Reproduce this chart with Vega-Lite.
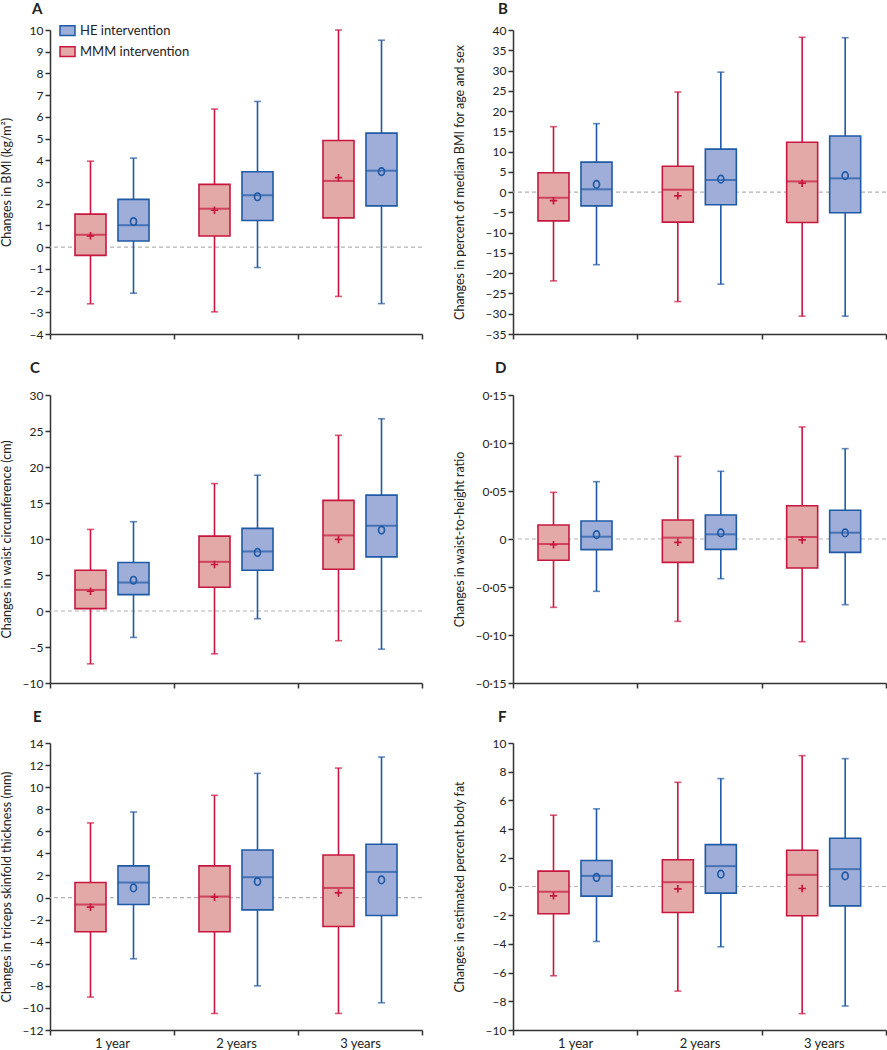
{
  "$schema": "https://vega.github.io/schema/vega-lite/v6.json",
  "padding": {"left": 0, "top": 2, "right": 0, "bottom": 0},
  "background": "white",
  "datasets": {
    "d": [
      {"panel": "A", "time": "1 year", "group": "MMM intervention", "lo": -2.61, "q1": -0.38, "med": 0.57, "q3": 1.52, "hi": 3.96, "mean": 0.52},
      {"panel": "A", "time": "1 year", "group": "HE intervention", "lo": -2.12, "q1": 0.28, "med": 1.01, "q3": 2.2, "hi": 4.1, "mean": 1.18},
      {"panel": "A", "time": "2 years", "group": "MMM intervention", "lo": -2.98, "q1": 0.51, "med": 1.77, "q3": 2.89, "hi": 6.36, "mean": 1.7},
      {"panel": "A", "time": "2 years", "group": "HE intervention", "lo": -0.94, "q1": 1.23, "med": 2.39, "q3": 3.47, "hi": 6.71, "mean": 2.32},
      {"panel": "A", "time": "3 years", "group": "MMM intervention", "lo": -2.27, "q1": 1.35, "med": 3.05, "q3": 4.91, "hi": 10.0, "mean": 3.2},
      {"panel": "A", "time": "3 years", "group": "HE intervention", "lo": -2.6, "q1": 1.9, "med": 3.52, "q3": 5.25, "hi": 9.53, "mean": 3.48},
      {"panel": "B", "time": "1 year", "group": "MMM intervention", "lo": -21.9, "q1": -7.1, "med": -1.37, "q3": 4.8, "hi": 16.15, "mean": -2.1},
      {"panel": "B", "time": "1 year", "group": "HE intervention", "lo": -17.9, "q1": -3.4, "med": 0.7, "q3": 7.4, "hi": 16.9, "mean": 1.9},
      {"panel": "B", "time": "2 years", "group": "MMM intervention", "lo": -27.0, "q1": -7.4, "med": 0.6, "q3": 6.4, "hi": 24.7, "mean": -0.9},
      {"panel": "B", "time": "2 years", "group": "HE intervention", "lo": -22.7, "q1": -3.1, "med": 3.0, "q3": 10.6, "hi": 29.6, "mean": 3.2},
      {"panel": "B", "time": "3 years", "group": "MMM intervention", "lo": -30.6, "q1": -7.5, "med": 2.65, "q3": 12.3, "hi": 38.2, "mean": 2.2},
      {"panel": "B", "time": "3 years", "group": "HE intervention", "lo": -30.6, "q1": -5.1, "med": 3.4, "q3": 13.85, "hi": 38.1, "mean": 4.06},
      {"panel": "C", "time": "1 year", "group": "MMM intervention", "lo": -7.34, "q1": 0.33, "med": 2.93, "q3": 5.67, "hi": 11.33, "mean": 2.74},
      {"panel": "C", "time": "1 year", "group": "HE intervention", "lo": -3.67, "q1": 2.28, "med": 3.95, "q3": 6.73, "hi": 12.4, "mean": 4.27},
      {"panel": "C", "time": "2 years", "group": "MMM intervention", "lo": -5.95, "q1": 3.3, "med": 6.83, "q3": 10.4, "hi": 17.7, "mean": 6.46},
      {"panel": "C", "time": "2 years", "group": "HE intervention", "lo": -1.07, "q1": 5.67, "med": 8.27, "q3": 11.47, "hi": 18.86, "mean": 8.13},
      {"panel": "C", "time": "3 years", "group": "MMM intervention", "lo": -4.13, "q1": 5.8, "med": 10.5, "q3": 15.37, "hi": 24.4, "mean": 9.94},
      {"panel": "C", "time": "3 years", "group": "HE intervention", "lo": -5.3, "q1": 7.52, "med": 11.84, "q3": 16.1, "hi": 26.7, "mean": 11.24},
      {"panel": "D", "time": "1 year", "group": "MMM intervention", "lo": -0.0712, "q1": -0.0222, "med": -0.0052, "q3": 0.0146, "hi": 0.0486, "mean": -0.006},
      {"panel": "D", "time": "1 year", "group": "HE intervention", "lo": -0.0545, "q1": -0.0111, "med": 0.0024, "q3": 0.0188, "hi": 0.0597, "mean": 0.0045},
      {"panel": "D", "time": "2 years", "group": "MMM intervention", "lo": -0.0858, "q1": -0.0243, "med": 0.0014, "q3": 0.0198, "hi": 0.0861, "mean": -0.0035},
      {"panel": "D", "time": "2 years", "group": "HE intervention", "lo": -0.0413, "q1": -0.0108, "med": 0.0049, "q3": 0.025, "hi": 0.0705, "mean": 0.0063},
      {"panel": "D", "time": "3 years", "group": "MMM intervention", "lo": -0.107, "q1": -0.0302, "med": 0.0021, "q3": 0.0347, "hi": 0.1167, "mean": -0.001},
      {"panel": "D", "time": "3 years", "group": "HE intervention", "lo": -0.0684, "q1": -0.0139, "med": 0.0066, "q3": 0.0299, "hi": 0.0941, "mean": 0.0063},
      {"panel": "E", "time": "1 year", "group": "MMM intervention", "lo": -9.02, "q1": -3.1, "med": -0.63, "q3": 1.36, "hi": 6.76, "mean": -0.87},
      {"panel": "E", "time": "1 year", "group": "HE intervention", "lo": -5.55, "q1": -0.63, "med": 1.36, "q3": 2.87, "hi": 7.75, "mean": 0.87},
      {"panel": "E", "time": "2 years", "group": "MMM intervention", "lo": -10.5, "q1": -3.1, "med": 0.09, "q3": 2.87, "hi": 9.26, "mean": 0.03},
      {"panel": "E", "time": "2 years", "group": "HE intervention", "lo": -8.0, "q1": -1.12, "med": 1.84, "q3": 4.31, "hi": 11.25, "mean": 1.45},
      {"panel": "E", "time": "3 years", "group": "MMM intervention", "lo": -10.5, "q1": -2.62, "med": 0.87, "q3": 3.86, "hi": 11.73, "mean": 0.42},
      {"panel": "E", "time": "3 years", "group": "HE intervention", "lo": -9.53, "q1": -1.63, "med": 2.32, "q3": 4.83, "hi": 12.73, "mean": 1.6},
      {"panel": "F", "time": "1 year", "group": "MMM intervention", "lo": -6.22, "q1": -1.9, "med": -0.37, "q3": 1.07, "hi": 4.97, "mean": -0.65},
      {"panel": "F", "time": "1 year", "group": "HE intervention", "lo": -3.83, "q1": -0.67, "med": 0.74, "q3": 1.81, "hi": 5.41, "mean": 0.63},
      {"panel": "F", "time": "2 years", "group": "MMM intervention", "lo": -7.29, "q1": -1.81, "med": 0.3, "q3": 1.86, "hi": 7.26, "mean": -0.16},
      {"panel": "F", "time": "2 years", "group": "HE intervention", "lo": -4.2, "q1": -0.46, "med": 1.42, "q3": 2.92, "hi": 7.52, "mean": 0.86},
      {"panel": "F", "time": "3 years", "group": "MMM intervention", "lo": -8.86, "q1": -2.04, "med": 0.81, "q3": 2.53, "hi": 9.12, "mean": -0.14},
      {"panel": "F", "time": "3 years", "group": "HE intervention", "lo": -8.33, "q1": -1.35, "med": 1.21, "q3": 3.36, "hi": 8.91, "mean": 0.74}
    ]
  },
  "config": {
    "font": "Lato",
    "view": {"stroke": null},
    "axis": {"domainColor": "#333333", "domainWidth": 1.5, "tickColor": "#333333", "tickWidth": 1.5, "tickSize": 5, "labelFont": "Lato", "labelFontSize": 12, "labelColor": "#222222", "titleFont": "Lato", "titleFontSize": 12.5, "titleFontWeight": "normal", "titleColor": "#222222", "grid": false, "labelPadding": 2, "labelOverlap": false},
    "axisY": {"tickCount": 100},
    "title": {"font": "Lato", "fontSize": 15, "fontWeight": "bold", "anchor": "start", "color": "#222222", "frame": "group"}
  },
  "columns": 2,
  "spacing": {"row": 21, "column": 30},
  "concat": [
    {
      "width": 372, "height": 304,
      "title": {"text": "A", "dx": -18, "offset": 7},
      "layer": [
        {"data": {"values": [{}]}, "mark": {"type": "rule", "color": "#b3b3b3", "strokeDash": [4, 3], "strokeWidth": 1.2}, "encoding": {"y": {"datum": 0, "type": "quantitative"}}},
        {
          "data": {"name": "d"},
          "transform": [{"filter": "datum.panel === 'A'"}],
          "encoding": {
            "x": {"field": "time", "type": "nominal", "sort": ["1 year", "2 years", "3 years"], "title": null, "scale": {"paddingInner": 0, "paddingOuter": 0}, "axis": {"tickBand": "extent", "labels": false}},
            "xOffset": {"field": "group", "type": "nominal", "sort": ["MMM intervention", "HE intervention"], "scale": {"paddingInner": 0.279, "paddingOuter": 0.581}},
            "color": {"field": "group", "type": "nominal", "scale": {"domain": ["MMM intervention", "HE intervention"], "range": ["#c8173f", "#1f5aa6"]}, "legend": null}
          },
          "layer": [
            {"mark": {"type": "rule", "strokeWidth": 1.6}, "encoding": {"y": {"field": "lo", "type": "quantitative", "scale": {"domain": [-4, 10], "nice": false, "zero": false}, "axis": {"title": "Changes in BMI (kg/m²)", "values": [-4, -3, -2, -1, 0, 1, 2, 3, 4, 5, 6, 7, 8, 9, 10], "format": "d", "tickCount": 100, "labelOverlap": false, "labelExpr": "replace(datum.label, '−', '–')", "titleX": -37}}, "y2": {"field": "hi"}}},
            {"mark": {"type": "bar", "strokeWidth": 1.6}, "encoding": {"y": {"field": "q1", "type": "quantitative"}, "y2": {"field": "q3"},
              "fill": {"field": "group", "type": "nominal", "scale": {"domain": ["HE intervention", "MMM intervention"], "range": ["#9eaed9", "#e3a9a6"]}, "legend": {"title": null, "orient": "none", "legendX": 9, "legendY": -8, "symbolType": "M-1,-0.65H1V0.65H-1Z", "symbolSize": 225, "symbolStrokeWidth": 1.5, "labelFontSize": 13, "labelFont": "Lato", "labelColor": "#222222", "rowPadding": 4, "labelOffset": 4}},
              "stroke": {"field": "group", "type": "nominal", "scale": {"domain": ["HE intervention", "MMM intervention"], "range": ["#1f5aa6", "#c8173f"]}, "legend": {"title": null, "orient": "none", "legendX": 9, "legendY": -8, "symbolType": "M-1,-0.65H1V0.65H-1Z", "symbolSize": 225, "symbolStrokeWidth": 1.5, "labelFontSize": 13, "labelFont": "Lato", "labelColor": "#222222", "rowPadding": 4, "labelOffset": 4}}}},
            {"mark": {"type": "tick", "size": 7, "thickness": 1.6}, "encoding": {"y": {"field": "lo", "type": "quantitative"}}},
            {"mark": {"type": "tick", "size": 7, "thickness": 1.6}, "encoding": {"y": {"field": "hi", "type": "quantitative"}}},
            {"mark": {"type": "tick", "size": 31, "thickness": 2}, "encoding": {"y": {"field": "med", "type": "quantitative"}}},
            {"mark": {"type": "point", "filled": false, "strokeWidth": 1.7, "size": 56, "opacity": 1}, "encoding": {"y": {"field": "mean", "type": "quantitative"}, "shape": {"field": "group", "type": "nominal", "scale": {"domain": ["MMM intervention", "HE intervention"], "range": ["M-1,0H1M0,-1V1", "M0,-1C0.45,-1 0.8,-0.55 0.8,0C0.8,0.55 0.45,1 0,1C-0.45,1 -0.8,0.55 -0.8,0C-0.8,-0.55 -0.45,-1 0,-1Z"]}, "legend": null}}}
          ]
        }
      ]
    },
    {
      "width": 373, "height": 304,
      "title": {"text": "B", "dx": -15, "offset": 7},
      "layer": [
        {"data": {"values": [{}]}, "mark": {"type": "rule", "color": "#b3b3b3", "strokeDash": [4, 3], "strokeWidth": 1.2}, "encoding": {"y": {"datum": 0, "type": "quantitative"}}},
        {
          "data": {"name": "d"},
          "transform": [{"filter": "datum.panel === 'B'"}],
          "encoding": {
            "x": {"field": "time", "type": "nominal", "sort": ["1 year", "2 years", "3 years"], "title": null, "scale": {"paddingInner": 0, "paddingOuter": 0}, "axis": {"tickBand": "extent", "labels": false}},
            "xOffset": {"field": "group", "type": "nominal", "sort": ["MMM intervention", "HE intervention"], "scale": {"paddingInner": 0.279, "paddingOuter": 0.581}},
            "color": {"field": "group", "type": "nominal", "scale": {"domain": ["MMM intervention", "HE intervention"], "range": ["#c8173f", "#1f5aa6"]}, "legend": null}
          },
          "layer": [
            {"mark": {"type": "rule", "strokeWidth": 1.6}, "encoding": {"y": {"field": "lo", "type": "quantitative", "scale": {"domain": [-35, 40], "nice": false, "zero": false}, "axis": {"title": "Changes in percent of median BMI for age and sex", "values": [-35, -30, -25, -20, -15, -10, -5, 0, 5, 10, 15, 20, 25, 30, 35, 40], "format": "d", "tickCount": 100, "labelOverlap": false, "labelExpr": "replace(datum.label, '−', '–')", "titleX": -47}}, "y2": {"field": "hi"}}},
            {"mark": {"type": "bar", "strokeWidth": 1.6}, "encoding": {"y": {"field": "q1", "type": "quantitative"}, "y2": {"field": "q3"},
              "fill": {"field": "group", "type": "nominal", "scale": {"domain": ["HE intervention", "MMM intervention"], "range": ["#9eaed9", "#e3a9a6"]}},
              "stroke": {"field": "group", "type": "nominal", "scale": {"domain": ["HE intervention", "MMM intervention"], "range": ["#1f5aa6", "#c8173f"]}}}},
            {"mark": {"type": "tick", "size": 7, "thickness": 1.6}, "encoding": {"y": {"field": "lo", "type": "quantitative"}}},
            {"mark": {"type": "tick", "size": 7, "thickness": 1.6}, "encoding": {"y": {"field": "hi", "type": "quantitative"}}},
            {"mark": {"type": "tick", "size": 31, "thickness": 2}, "encoding": {"y": {"field": "med", "type": "quantitative"}}},
            {"mark": {"type": "point", "filled": false, "strokeWidth": 1.7, "size": 56, "opacity": 1}, "encoding": {"y": {"field": "mean", "type": "quantitative"}, "shape": {"field": "group", "type": "nominal", "scale": {"domain": ["MMM intervention", "HE intervention"], "range": ["M-1,0H1M0,-1V1", "M0,-1C0.45,-1 0.8,-0.55 0.8,0C0.8,0.55 0.45,1 0,1C-0.45,1 -0.8,0.55 -0.8,0C-0.8,-0.55 -0.45,-1 0,-1Z"]}, "legend": null}}}
          ]
        }
      ]
    },
    {
      "width": 372, "height": 288,
      "title": {"text": "C", "dx": -20, "offset": 13},
      "layer": [
        {"data": {"values": [{}]}, "mark": {"type": "rule", "color": "#b3b3b3", "strokeDash": [4, 3], "strokeWidth": 1.2}, "encoding": {"y": {"datum": 0, "type": "quantitative"}}},
        {
          "data": {"name": "d"},
          "transform": [{"filter": "datum.panel === 'C'"}],
          "encoding": {
            "x": {"field": "time", "type": "nominal", "sort": ["1 year", "2 years", "3 years"], "title": null, "scale": {"paddingInner": 0, "paddingOuter": 0}, "axis": {"tickBand": "extent", "labels": false}},
            "xOffset": {"field": "group", "type": "nominal", "sort": ["MMM intervention", "HE intervention"], "scale": {"paddingInner": 0.279, "paddingOuter": 0.581}},
            "color": {"field": "group", "type": "nominal", "scale": {"domain": ["MMM intervention", "HE intervention"], "range": ["#c8173f", "#1f5aa6"]}, "legend": null}
          },
          "layer": [
            {"mark": {"type": "rule", "strokeWidth": 1.6}, "encoding": {"y": {"field": "lo", "type": "quantitative", "scale": {"domain": [-10, 30], "nice": false, "zero": false}, "axis": {"title": "Changes in waist circumference (cm)", "values": [-10, -5, 0, 5, 10, 15, 20, 25, 30], "format": "d", "tickCount": 100, "labelOverlap": false, "labelExpr": "replace(datum.label, '−', '–')", "titleX": -37}}, "y2": {"field": "hi"}}},
            {"mark": {"type": "bar", "strokeWidth": 1.6}, "encoding": {"y": {"field": "q1", "type": "quantitative"}, "y2": {"field": "q3"},
              "fill": {"field": "group", "type": "nominal", "scale": {"domain": ["HE intervention", "MMM intervention"], "range": ["#9eaed9", "#e3a9a6"]}},
              "stroke": {"field": "group", "type": "nominal", "scale": {"domain": ["HE intervention", "MMM intervention"], "range": ["#1f5aa6", "#c8173f"]}}}},
            {"mark": {"type": "tick", "size": 7, "thickness": 1.6}, "encoding": {"y": {"field": "lo", "type": "quantitative"}}},
            {"mark": {"type": "tick", "size": 7, "thickness": 1.6}, "encoding": {"y": {"field": "hi", "type": "quantitative"}}},
            {"mark": {"type": "tick", "size": 31, "thickness": 2}, "encoding": {"y": {"field": "med", "type": "quantitative"}}},
            {"mark": {"type": "point", "filled": false, "strokeWidth": 1.7, "size": 56, "opacity": 1}, "encoding": {"y": {"field": "mean", "type": "quantitative"}, "shape": {"field": "group", "type": "nominal", "scale": {"domain": ["MMM intervention", "HE intervention"], "range": ["M-1,0H1M0,-1V1", "M0,-1C0.45,-1 0.8,-0.55 0.8,0C0.8,0.55 0.45,1 0,1C-0.45,1 -0.8,0.55 -0.8,0C-0.8,-0.55 -0.45,-1 0,-1Z"]}, "legend": null}}}
          ]
        }
      ]
    },
    {
      "width": 373, "height": 288,
      "title": {"text": "D", "dx": -18, "offset": 13},
      "layer": [
        {"data": {"values": [{}]}, "mark": {"type": "rule", "color": "#b3b3b3", "strokeDash": [4, 3], "strokeWidth": 1.2}, "encoding": {"y": {"datum": 0, "type": "quantitative"}}},
        {
          "data": {"name": "d"},
          "transform": [{"filter": "datum.panel === 'D'"}],
          "encoding": {
            "x": {"field": "time", "type": "nominal", "sort": ["1 year", "2 years", "3 years"], "title": null, "scale": {"paddingInner": 0, "paddingOuter": 0}, "axis": {"tickBand": "extent", "labels": false}},
            "xOffset": {"field": "group", "type": "nominal", "sort": ["MMM intervention", "HE intervention"], "scale": {"paddingInner": 0.279, "paddingOuter": 0.581}},
            "color": {"field": "group", "type": "nominal", "scale": {"domain": ["MMM intervention", "HE intervention"], "range": ["#c8173f", "#1f5aa6"]}, "legend": null}
          },
          "layer": [
            {"mark": {"type": "rule", "strokeWidth": 1.6}, "encoding": {"y": {"field": "lo", "type": "quantitative", "scale": {"domain": [-0.15, 0.15], "nice": false, "zero": false}, "axis": {"title": "Changes in waist-to-height ratio", "values": [-0.15, -0.1, -0.05, 0, 0.05, 0.1, 0.15], "tickCount": 100, "labelOverlap": false, "labelExpr": "datum.value == 0 ? '0' : replace(replace(format(datum.value, '.2f'), '.', '·'), '−', '–')", "titleX": -47}}, "y2": {"field": "hi"}}},
            {"mark": {"type": "bar", "strokeWidth": 1.6}, "encoding": {"y": {"field": "q1", "type": "quantitative"}, "y2": {"field": "q3"},
              "fill": {"field": "group", "type": "nominal", "scale": {"domain": ["HE intervention", "MMM intervention"], "range": ["#9eaed9", "#e3a9a6"]}},
              "stroke": {"field": "group", "type": "nominal", "scale": {"domain": ["HE intervention", "MMM intervention"], "range": ["#1f5aa6", "#c8173f"]}}}},
            {"mark": {"type": "tick", "size": 7, "thickness": 1.6}, "encoding": {"y": {"field": "lo", "type": "quantitative"}}},
            {"mark": {"type": "tick", "size": 7, "thickness": 1.6}, "encoding": {"y": {"field": "hi", "type": "quantitative"}}},
            {"mark": {"type": "tick", "size": 31, "thickness": 2}, "encoding": {"y": {"field": "med", "type": "quantitative"}}},
            {"mark": {"type": "point", "filled": false, "strokeWidth": 1.7, "size": 56, "opacity": 1}, "encoding": {"y": {"field": "mean", "type": "quantitative"}, "shape": {"field": "group", "type": "nominal", "scale": {"domain": ["MMM intervention", "HE intervention"], "range": ["M-1,0H1M0,-1V1", "M0,-1C0.45,-1 0.8,-0.55 0.8,0C0.8,0.55 0.45,1 0,1C-0.45,1 -0.8,0.55 -0.8,0C-0.8,-0.55 -0.45,-1 0,-1Z"]}, "legend": null}}}
          ]
        }
      ]
    },
    {
      "width": 372, "height": 287,
      "title": {"text": "E", "dx": -17, "offset": 12},
      "layer": [
        {"data": {"values": [{}]}, "mark": {"type": "rule", "color": "#b3b3b3", "strokeDash": [4, 3], "strokeWidth": 1.2}, "encoding": {"y": {"datum": 0, "type": "quantitative"}}},
        {
          "data": {"name": "d"},
          "transform": [{"filter": "datum.panel === 'E'"}],
          "encoding": {
            "x": {"field": "time", "type": "nominal", "sort": ["1 year", "2 years", "3 years"], "title": null, "scale": {"paddingInner": 0, "paddingOuter": 0}, "axis": {"tickBand": "extent", "labels": true, "labelAngle": 0, "labelFontSize": 13, "labelPadding": 2}},
            "xOffset": {"field": "group", "type": "nominal", "sort": ["MMM intervention", "HE intervention"], "scale": {"paddingInner": 0.279, "paddingOuter": 0.581}},
            "color": {"field": "group", "type": "nominal", "scale": {"domain": ["MMM intervention", "HE intervention"], "range": ["#c8173f", "#1f5aa6"]}, "legend": null}
          },
          "layer": [
            {"mark": {"type": "rule", "strokeWidth": 1.6}, "encoding": {"y": {"field": "lo", "type": "quantitative", "scale": {"domain": [-12, 14], "nice": false, "zero": false}, "axis": {"title": "Changes in triceps skinfold thickness (mm)", "values": [-12, -10, -8, -6, -4, -2, 0, 2, 4, 6, 8, 10, 12, 14], "format": "d", "tickCount": 100, "labelOverlap": false, "labelExpr": "replace(datum.label, '−', '–')", "titleX": -37}}, "y2": {"field": "hi"}}},
            {"mark": {"type": "bar", "strokeWidth": 1.6}, "encoding": {"y": {"field": "q1", "type": "quantitative"}, "y2": {"field": "q3"},
              "fill": {"field": "group", "type": "nominal", "scale": {"domain": ["HE intervention", "MMM intervention"], "range": ["#9eaed9", "#e3a9a6"]}},
              "stroke": {"field": "group", "type": "nominal", "scale": {"domain": ["HE intervention", "MMM intervention"], "range": ["#1f5aa6", "#c8173f"]}}}},
            {"mark": {"type": "tick", "size": 7, "thickness": 1.6}, "encoding": {"y": {"field": "lo", "type": "quantitative"}}},
            {"mark": {"type": "tick", "size": 7, "thickness": 1.6}, "encoding": {"y": {"field": "hi", "type": "quantitative"}}},
            {"mark": {"type": "tick", "size": 31, "thickness": 2}, "encoding": {"y": {"field": "med", "type": "quantitative"}}},
            {"mark": {"type": "point", "filled": false, "strokeWidth": 1.7, "size": 56, "opacity": 1}, "encoding": {"y": {"field": "mean", "type": "quantitative"}, "shape": {"field": "group", "type": "nominal", "scale": {"domain": ["MMM intervention", "HE intervention"], "range": ["M-1,0H1M0,-1V1", "M0,-1C0.45,-1 0.8,-0.55 0.8,0C0.8,0.55 0.45,1 0,1C-0.45,1 -0.8,0.55 -0.8,0C-0.8,-0.55 -0.45,-1 0,-1Z"]}, "legend": null}}}
          ]
        }
      ]
    },
    {
      "width": 373, "height": 287,
      "title": {"text": "F", "dx": -15, "offset": 12},
      "layer": [
        {"data": {"values": [{}]}, "mark": {"type": "rule", "color": "#b3b3b3", "strokeDash": [4, 3], "strokeWidth": 1.2}, "encoding": {"y": {"datum": 0, "type": "quantitative"}}},
        {
          "data": {"name": "d"},
          "transform": [{"filter": "datum.panel === 'F'"}],
          "encoding": {
            "x": {"field": "time", "type": "nominal", "sort": ["1 year", "2 years", "3 years"], "title": null, "scale": {"paddingInner": 0, "paddingOuter": 0}, "axis": {"tickBand": "extent", "labels": true, "labelAngle": 0, "labelFontSize": 13, "labelPadding": 2}},
            "xOffset": {"field": "group", "type": "nominal", "sort": ["MMM intervention", "HE intervention"], "scale": {"paddingInner": 0.279, "paddingOuter": 0.581}},
            "color": {"field": "group", "type": "nominal", "scale": {"domain": ["MMM intervention", "HE intervention"], "range": ["#c8173f", "#1f5aa6"]}, "legend": null}
          },
          "layer": [
            {"mark": {"type": "rule", "strokeWidth": 1.6}, "encoding": {"y": {"field": "lo", "type": "quantitative", "scale": {"domain": [-10, 10], "nice": false, "zero": false}, "axis": {"title": "Changes in estimated percent body fat", "values": [-10, -8, -6, -4, -2, 0, 2, 4, 6, 8, 10], "format": "d", "tickCount": 100, "labelOverlap": false, "labelExpr": "replace(datum.label, '−', '–')", "titleX": -47}}, "y2": {"field": "hi"}}},
            {"mark": {"type": "bar", "strokeWidth": 1.6}, "encoding": {"y": {"field": "q1", "type": "quantitative"}, "y2": {"field": "q3"},
              "fill": {"field": "group", "type": "nominal", "scale": {"domain": ["HE intervention", "MMM intervention"], "range": ["#9eaed9", "#e3a9a6"]}},
              "stroke": {"field": "group", "type": "nominal", "scale": {"domain": ["HE intervention", "MMM intervention"], "range": ["#1f5aa6", "#c8173f"]}}}},
            {"mark": {"type": "tick", "size": 7, "thickness": 1.6}, "encoding": {"y": {"field": "lo", "type": "quantitative"}}},
            {"mark": {"type": "tick", "size": 7, "thickness": 1.6}, "encoding": {"y": {"field": "hi", "type": "quantitative"}}},
            {"mark": {"type": "tick", "size": 31, "thickness": 2}, "encoding": {"y": {"field": "med", "type": "quantitative"}}},
            {"mark": {"type": "point", "filled": false, "strokeWidth": 1.7, "size": 56, "opacity": 1}, "encoding": {"y": {"field": "mean", "type": "quantitative"}, "shape": {"field": "group", "type": "nominal", "scale": {"domain": ["MMM intervention", "HE intervention"], "range": ["M-1,0H1M0,-1V1", "M0,-1C0.45,-1 0.8,-0.55 0.8,0C0.8,0.55 0.45,1 0,1C-0.45,1 -0.8,0.55 -0.8,0C-0.8,-0.55 -0.45,-1 0,-1Z"]}, "legend": null}}}
          ]
        }
      ]
    }
  ]
}
